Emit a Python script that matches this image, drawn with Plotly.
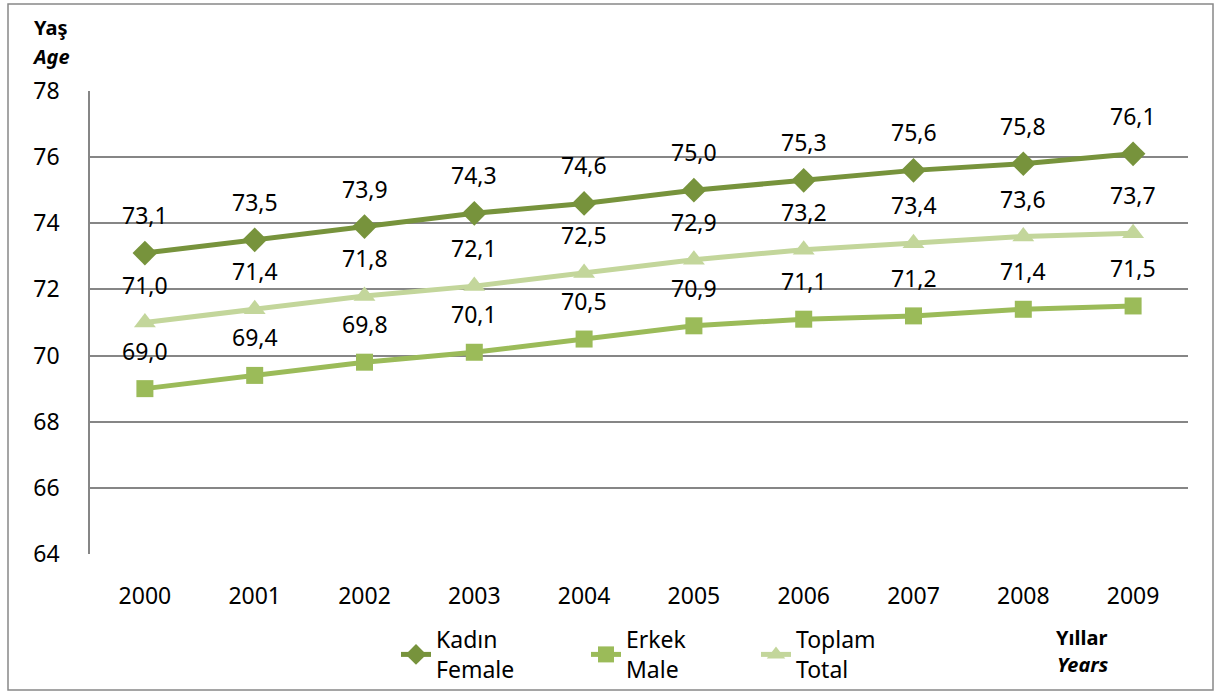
import plotly.graph_objects as go

years = ["2000", "2001", "2002", "2003", "2004", "2005", "2006", "2007", "2008", "2009"]
female = [73.1, 73.5, 73.9, 74.3, 74.6, 75.0, 75.3, 75.6, 75.8, 76.1]
male = [69.0, 69.4, 69.8, 70.1, 70.5, 70.9, 71.1, 71.2, 71.4, 71.5]
total = [71.0, 71.4, 71.8, 72.1, 72.5, 72.9, 73.2, 73.4, 73.6, 73.7]
y_ticks = [64, 66, 68, 70, 72, 74, 76, 78]

series = [
    ("Kadın<br>Female", female, "#77933C", "diamond", 19, "legend"),
    ("Erkek<br>Male", male, "#9BBB59", "square", 17, "legend2"),
    ("Toplam<br>Total", total, "#C3D69B", "triangle-up", 19, "legend3"),
]

FONT = "Noto Sans"
FS = 23
W, H = 1214, 693
L, R, T, B = 90, 26, 91, 139

fig = go.Figure()
for name, vals, col, sym, sz, lg in series:
    fig.add_trace(go.Scatter(
        x=years, y=vals, name=name, mode="lines+markers", legend=lg,
        line=dict(color=col, width=5),
        marker=dict(symbol=sym, size=sz, color=col),
    ))
    for i, yv in enumerate(vals):
        fig.add_annotation(x=i, y=yv, xref="x", yref="y",
                           text=f"{yv:.1f}".replace(".", ","),
                           showarrow=False, yshift=38,
                           font=dict(family=FONT, size=FS, color="#000"))

pw, ph = W - L - R, H - T - B
def px(x):
    return (x - L) / pw
def py(y):
    return (H - B - y) / ph

fig.add_shape(type="rect", xref="paper", yref="paper",
              x0=px(8), x1=px(1213), y0=py(690), y1=py(4),
              line=dict(color="#888888", width=1.5))

for txt, x, y in [("<b>Yaş</b>", 51, 28), ("<b><i>Age</i></b>", 51, 56),
                  ("<b>Yıllar</b>", 1081, 637), ("<b><i>Years</i></b>", 1083, 664)]:
    fig.add_annotation(xref="paper", yref="paper", x=px(x), y=py(y), text=txt,
                       xanchor="center", yanchor="middle",
                       showarrow=False, font=dict(family=FONT, size=20, color="#000"))

def legend_at(xpix):
    return dict(orientation="h", x=px(xpix), y=py(618), xanchor="left", yanchor="top",
                font=dict(size=FS), bgcolor="rgba(0,0,0,0)")

fig.update_layout(
    width=W, height=H,
    margin=dict(l=L, r=R, t=T, b=B, autoexpand=False),
    paper_bgcolor="white", plot_bgcolor="white",
    font=dict(family=FONT, size=FS, color="#000"),
    showlegend=True,
    legend=legend_at(396),
    legend2=legend_at(586),
    legend3=legend_at(756),
    xaxis=dict(type="category", range=[-0.5, 9.5], showgrid=False, showline=False,
               ticks="", tickfont=dict(size=FS), ticklabelstandoff=26),
    yaxis=dict(range=[64, 78], tickvals=y_ticks, showgrid=True, gridcolor="#868686",
               gridwidth=1.5, showline=True, linecolor="#868686", linewidth=1.5,
               zeroline=False, ticks="", tickfont=dict(size=FS), ticklabelstandoff=24),
)

fig.write_html("out.html", config={"displayModeBar": False},
               post_script="document.body.style.margin='0';")
